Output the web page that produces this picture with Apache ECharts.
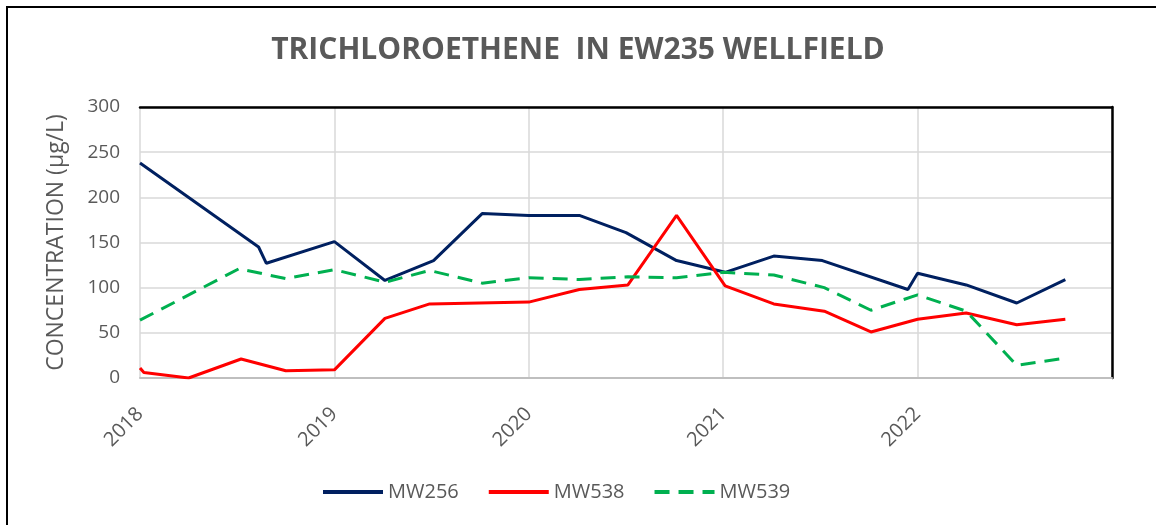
<!DOCTYPE html>
<html>
<head>
<meta charset="utf-8">
<script src="https://cdn.jsdelivr.net/npm/echarts@6/dist/echarts.min.js"></script>
<style>
html,body{margin:0;padding:0;background:#fff;}
#chart{width:1156px;height:525px;}
</style>
</head>
<body>
<div id="chart"></div>
<script>
var titleText = 'TRICHLOROETHENE  IN EW235 WELLFIELD';
var yAxisName = 'CONCENTRATION (\u00b5g/L)';
var seriesNames = ['MW256', 'MW538', 'MW539'];

var mw256Dates  = [2018.00, 2018.61, 2018.65, 2019.00, 2019.26, 2019.51, 2019.76, 2020.00, 2020.26, 2020.50, 2020.76, 2021.01, 2021.26, 2021.51, 2021.95, 2022.00, 2022.25, 2022.51, 2022.76];
var mw256Values = [238, 145, 127, 151, 108, 130, 182, 180, 180, 161, 130, 117, 135, 130, 98, 116, 103, 83, 109];

var mw538Dates  = [2018.00, 2018.02, 2018.25, 2018.52, 2018.75, 2019.00, 2019.26, 2019.49, 2020.00, 2020.26, 2020.51, 2020.76, 2021.01, 2021.26, 2021.52, 2021.76, 2022.00, 2022.25, 2022.51, 2022.76];
var mw538Values = [11, 6, 0, 21, 8, 9, 66, 82, 84, 98, 103, 180, 102, 82, 74, 51, 65, 72, 59, 65];

var mw539Dates  = [2018.00, 2018.51, 2018.75, 2019.00, 2019.26, 2019.49, 2019.76, 2020.00, 2020.26, 2020.51, 2020.76, 2021.00, 2021.26, 2021.52, 2021.76, 2022.00, 2022.25, 2022.51, 2022.76];
var mw539Values = [64, 121, 110, 120, 106, 119, 105, 111, 109, 112, 111, 117, 114, 100, 75, 92, 74, 14, 22];

var xMin = 2018, xMax = 2023, xStep = 1;
var yMin = 0, yMax = 300, yStep = 50;

function pairs(d, v) { return d.map(function (x, i) { return [x, v[i]]; }); }

var chart = echarts.init(document.getElementById('chart'), null, {renderer: 'canvas'});
var grey = '#595959';
chart.setOption({
  backgroundColor: '#ffffff',
  animation: false,
  graphic: [{
    type: 'rect',
    shape: {x: 7, y: 7, width: 1200, height: 600},
    style: {fill: 'none', stroke: '#000', lineWidth: 2},
    silent: true
  }],
  title: {
    text: titleText,
    left: 'center',
    top: 30,
    textStyle: {fontFamily: 'Open Sans', fontWeight: 'bold', fontSize: 30, color: grey}
  },
  legend: {
    top: 477,
    left: 316,
    itemWidth: 60,
    itemHeight: 14,
    itemGap: 28,
    itemStyle: {color: 'rgba(0,0,0,0)', borderWidth: 0, opacity: 0},
    lineStyle: {width: 4},
    textStyle: {fontFamily: 'Open Sans', fontSize: 20, color: grey},
    data: seriesNames
  },
  grid: {left: 140, right: 44, top: 107, bottom: 147},
  xAxis: [{
    type: 'value', min: xMin, max: xMax, interval: xStep,
    axisLine: {show: true, onZero: false, lineStyle: {color: '#bfbfbf', width: 2}},
    axisTick: {show: false},
    splitLine: {show: true, lineStyle: {color: '#d9d9d9', width: 1.5}},
    axisLabel: {
      rotate: 45, margin: 33, color: grey, fontFamily: 'Open Sans', fontSize: 20,
      formatter: function (v) { return v === xMax ? '' : String(v); }
    }
  }, {
    type: 'value', position: 'top', min: xMin, max: xMax, interval: xStep,
    axisLine: {show: true, onZero: false, lineStyle: {color: '#000', width: 2.5}},
    axisTick: {show: false}, axisLabel: {show: false}, splitLine: {show: false}
  }],
  yAxis: [{
    type: 'value', min: yMin, max: yMax, interval: yStep,
    name: yAxisName, nameLocation: 'middle', nameGap: 72,
    nameTextStyle: {fontFamily: 'Open Sans', fontSize: 23, color: grey},
    axisLine: {show: false}, axisTick: {show: false},
    splitLine: {show: true, lineStyle: {color: '#d9d9d9', width: 1.5}},
    axisLabel: {color: grey, fontFamily: 'Open Sans', fontSize: 19, margin: 20}
  }, {
    type: 'value', position: 'right', min: yMin, max: yMax, interval: yStep,
    axisLine: {show: true, onZero: false, lineStyle: {color: '#000', width: 2.5}},
    axisTick: {show: false}, axisLabel: {show: false}, splitLine: {show: false}
  }],
  series: [{
    name: seriesNames[0], type: 'line', symbol: 'none',
    data: pairs(mw256Dates, mw256Values),
    itemStyle: {color: '#002060'},
    lineStyle: {color: '#002060', width: 3}
  }, {
    name: seriesNames[1], type: 'line', symbol: 'none',
    data: pairs(mw538Dates, mw538Values),
    itemStyle: {color: '#ff0000'},
    lineStyle: {color: '#ff0000', width: 3}
  }, {
    name: seriesNames[2], type: 'line', symbol: 'none',
    data: pairs(mw539Dates, mw539Values),
    itemStyle: {color: '#00b050'},
    lineStyle: {color: '#00b050', width: 3, type: [15, 9]}
  }]
});
</script>
</body>
</html>
